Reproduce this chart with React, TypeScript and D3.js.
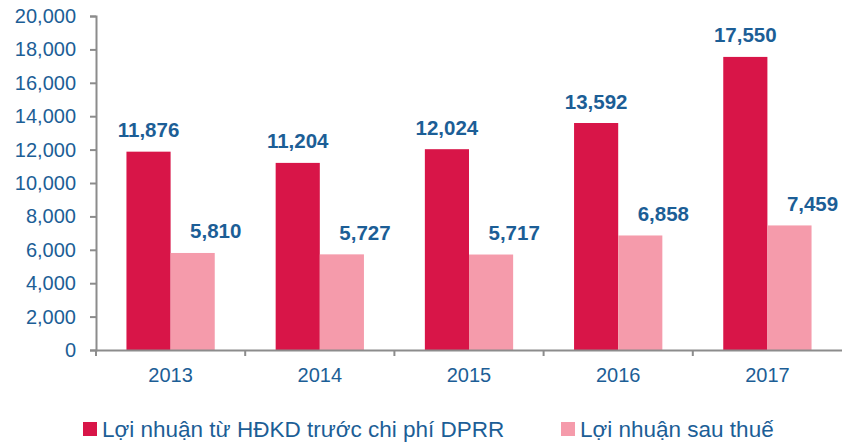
import { axisBottom, axisLeft, format, scaleBand, scaleLinear, select } from 'd3';
import React, { useEffect, useRef } from 'react';

const WIDTH = 842;
const HEIGHT = 442;
const MARGIN_TOP = 16;
const MARGIN_LEFT = 96;
const MARGIN_RIGHT = 0;
const PLOT_BOTTOM = 350;

const years = ['2013', '2014', '2015', '2016', '2017'];
const profitBeforeProvision = [11876, 11204, 12024, 13592, 17550];
const profitAfterTax = [5810, 5727, 5717, 6858, 7459];
const seriesNames = ['Lợi nhuận từ HĐKD trước chi phí DPRR', 'Lợi nhuận sau thuế'];
const yTicks = [0, 2000, 4000, 6000, 8000, 10000, 12000, 14000, 16000, 18000, 20000];

const COLORS = ['#D81548', '#F59BAB'];
const TEXT = '#1C5E96';
const FONT = 'Liberation Sans, Arial, sans-serif';

const App = (): JSX.Element => {
  const ref = useRef<SVGSVGElement>(null);

  useEffect(() => {
    if (ref.current === null) return;
    ref.current.replaceChildren();

    const x = scaleBand().domain(years).range([MARGIN_LEFT, WIDTH - MARGIN_RIGHT]);
    const inner = scaleBand()
      .domain(['0', '1'])
      .range([0, x.bandwidth()])
      .paddingOuter(0.69)
      .paddingInner(0);
    const y = scaleLinear().domain([0, 20000]).range([PLOT_BOTTOM, MARGIN_TOP]);

    const svg = select(ref.current)
      .attr('width', WIDTH)
      .attr('height', HEIGHT)
      .attr('viewBox', [0, 0, WIDTH, HEIGHT])
      .style('font-family', FONT);

    const series = [profitBeforeProvision, profitAfterTax];

    // bars
    series.forEach((values, si) => {
      svg
        .append('g')
        .attr('fill', COLORS[si])
        .selectAll()
        .data(values)
        .join('rect')
        .attr('x', (_, i) => (x(years[i]) ?? 0) + (inner(String(si)) ?? 0))
        .attr('y', (d) => y(d))
        .attr('width', inner.bandwidth())
        .attr('height', (d) => y(0) - y(d));
    });

    // value labels (the second series' labels sit shifted to the right)
    series.forEach((values, si) => {
      const shift = si === 0 ? inner.bandwidth() / 2 : inner.bandwidth() + 1;
      svg
        .append('g')
        .attr('fill', TEXT)
        .attr('font-weight', 'bold')
        .attr('font-size', 20.5)
        .attr('text-anchor', 'middle')
        .selectAll()
        .data(values)
        .join('text')
        .attr('x', (_, i) => (x(years[i]) ?? 0) + (inner(String(si)) ?? 0) + shift)
        .attr('y', (d) => y(d) - 14.5)
        .text((d) => format(',')(d));
    });

    // y axis
    svg
      .append('g')
      .attr('transform', `translate(${MARGIN_LEFT}, 0)`)
      .call(axisLeft(y).tickValues(yTicks).tickFormat(format(',')).tickSize(6).tickPadding(14))
      .call((g) => g.selectAll('line, path').attr('stroke', '#8C8C8C').attr('stroke-width', 2))
      .call((g) =>
        g.selectAll('text').attr('fill', TEXT).attr('font-size', 20).attr('font-family', FONT),
      );

    // x axis
    svg
      .append('g')
      .attr('transform', `translate(0, ${PLOT_BOTTOM})`)
      .call(axisBottom(x).tickSize(0).tickPadding(18))
      .call((g) => g.select('.domain').attr('stroke', '#8C8C8C').attr('stroke-width', 2))
      .call((g) =>
        g.selectAll('text').attr('fill', TEXT).attr('font-size', 20).attr('font-family', FONT),
      );

    // category separators
    svg
      .append('g')
      .attr('stroke', '#8C8C8C')
      .attr('stroke-width', 2)
      .selectAll()
      .data(years)
      .join('line')
      .attr('x1', (d) => x(d) ?? 0)
      .attr('x2', (d) => x(d) ?? 0)
      .attr('y1', PLOT_BOTTOM)
      .attr('y2', PLOT_BOTTOM + 6);

    // legend
    const legendX = [83, 561];
    const legend = svg
      .append('g')
      .selectAll()
      .data(seriesNames)
      .join('g')
      .attr('transform', (_, i) => `translate(${legendX[i]}, 422)`);
    legend
      .append('rect')
      .attr('width', 14)
      .attr('height', 14)
      .attr('fill', (_, i) => COLORS[i]);
    legend
      .append('text')
      .attr('x', 19)
      .attr('y', 15)
      .attr('fill', TEXT)
      .attr('font-size', 22.5)
      .text((d) => d);
  }, [ref]);

  return <svg ref={ref} style={{ position: 'absolute', left: 0, top: 0 }} />;
};

export default App;
